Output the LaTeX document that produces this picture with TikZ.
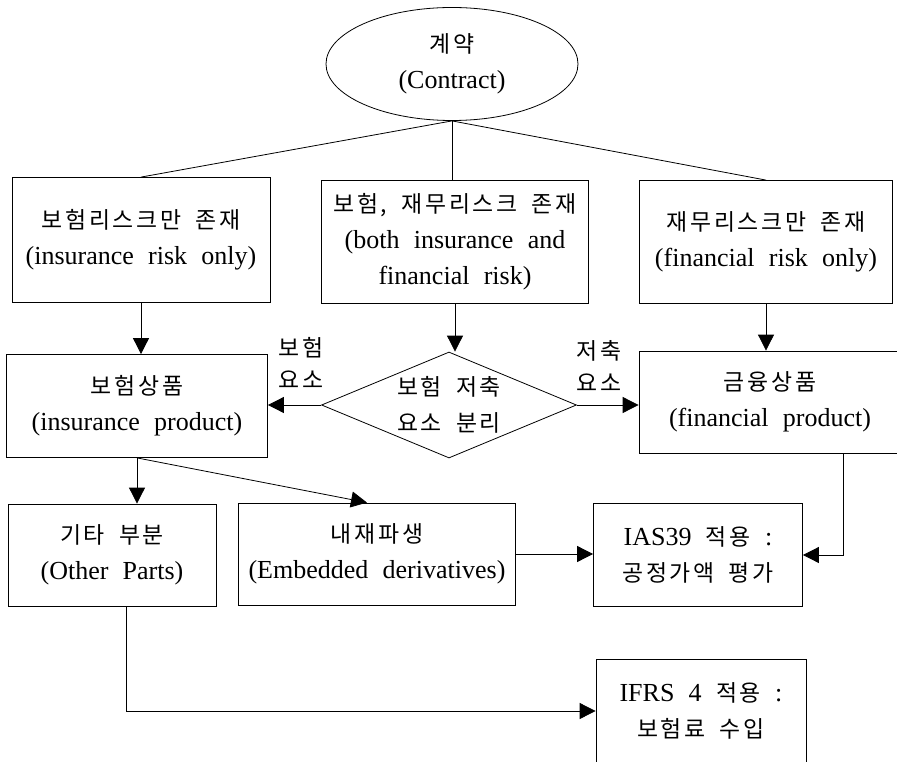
\documentclass[tikz,border=0pt]{standalone}
\usepackage{fontspec}
\setmainfont{Liberation Serif}[WordSpace=2.2]
\newfontfamily\krfont{Noto Sans CJK KR}[Scale=0.88,LetterSpace=12,WordSpace=1.8]
\newcommand{\ko}[1]{{\krfont #1}}
\usetikzlibrary{shapes.geometric,arrows.meta}
\begin{document}
\begin{tikzpicture}
		[x=1pt,y=-1pt,line width=0.8pt,
		every node/.style={font=\fontsize{26}{36}\selectfont,align=center,inner sep=0pt},
		box/.style={draw,rectangle},
		lbl/.style={font=\fontsize{26}{32}\selectfont},
		arr/.style={-{Triangle[length=16pt,width=16pt]}}]
		\useasboundingbox (0,0) rectangle (897,762);
		% top
		\node[ellipse,draw,minimum width=252,minimum height=113] (ct) at (452,64) {\ko{계약}\\(Contract)};
		\node[box,minimum width=258,minimum height=125] (ins) at (141,240) {\ko{보험리스크만 존재}\\(insurance risk only)};
		\node[box,minimum width=267,minimum height=123] (both) at (455,242) {\ko{보험, 재무리스크 존재}\\(both insurance and\\financial risk)};
		\node[box,minimum width=253,minimum height=123] (fin) at (766,242) {\ko{재무리스크만 존재}\\(financial risk only)};
		% middle
		\node[box,minimum width=261,minimum height=103] (insp) at (137,406) {\ko{보험상품}\\(insurance product)};
		\node[diamond,draw,aspect=2.4,minimum width=255,minimum height=106] (sep) at (449,405) {\ko{보험 저축}\\\ko{요소 분리}};
		\node[box,minimum width=262,minimum height=102] (finp) at (770,402) {\ko{금융상품}\\(financial product)};
		\node[lbl] (lins) at (301,363) {\ko{보험}\\\ko{요소}};
		\node[lbl] (lsav) at (599,366) {\ko{저축}\\\ko{요소}};
		% bottom
		\node[box,minimum width=208,minimum height=102] (oth) at (112,555) {\ko{기타 부분}\\(Other Parts)};
		\node[box,minimum width=277,minimum height=102] (emb) at (377,554) {\ko{내재파생}\\(Embedded derivatives)};
		\node[box,minimum width=209,minimum height=103] (ias) at (698,555) {IAS39 \ko{적용} :\\\ko{공정가액 평가}};
		\node[box,minimum width=210,minimum height=104] (ifrs) at (701,711) {IFRS 4 \ko{적용} :\\\ko{보험료 수입}};
		% connectors
		\draw (ct.south) -- (ins.north);
		\draw (ct.south) -- (ct.south |- both.north);
		\draw (ct.south) -- (fin.north);
		\draw[arr] (ins.south) -- (ins.south |- insp.north);
		\draw[arr] (both.south) -- (both.south |- sep.north);
		\draw[arr] (fin.south) -- (fin.south |- finp.north);
		\draw[arr] (sep.west) -- (sep.west -| insp.east);
		\draw[arr] (sep.east) -- (sep.east -| finp.west);
		\draw[arr] (insp.south) -- (insp.south |- oth.north);
		\draw[arr] (insp.south) -- ([xshift=-10pt]emb.north);
		\draw[arr] (emb.east) -- (emb.east -| ias.west);
		\draw[arr] ([xshift=73pt]finp.south) |- (ias.east);
		\draw[arr] ([xshift=14pt]oth.south) |- (ifrs.west);
	\end{tikzpicture}
\end{document}
